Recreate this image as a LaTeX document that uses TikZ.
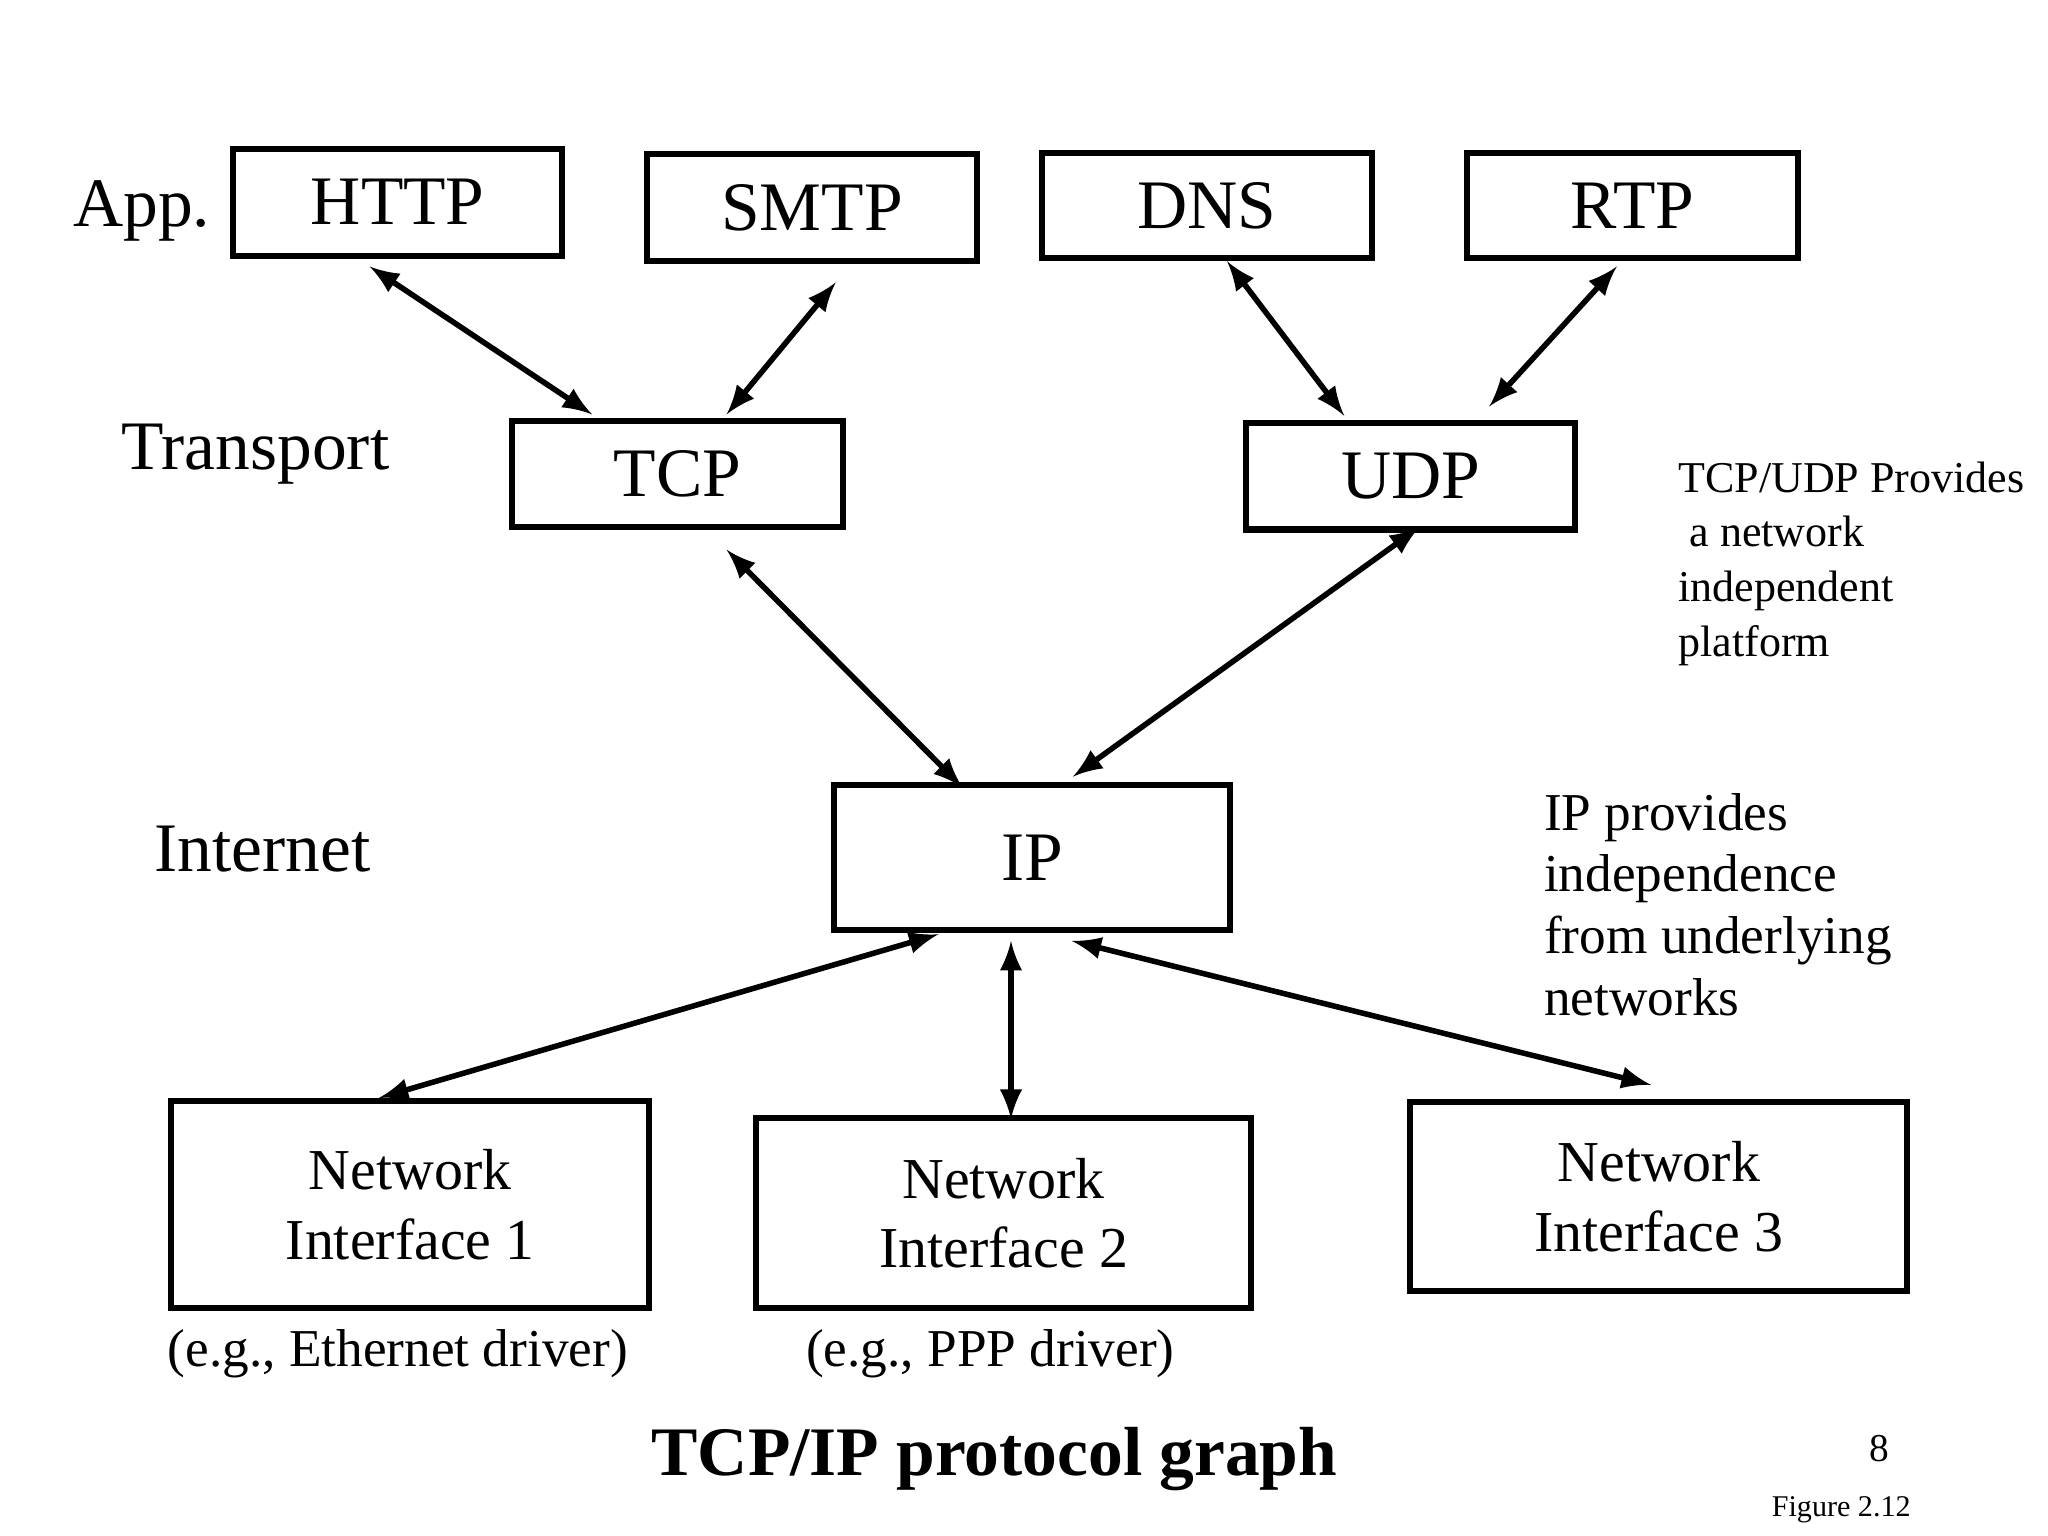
\documentclass[tikz,border=0pt]{standalone}
\usepackage{fontspec}
\setmainfont{Liberation Serif}
\usetikzlibrary{calc}
\begin{document}
\begin{tikzpicture}[x=0.01cm,y=-0.01cm,
  box/.style={draw,line width=1.3pt,inner sep=0pt},
  arr/.style={<->,>=latex,line width=1.2pt},
  big/.style={font=\fontsize{15}{17}\selectfont},
  ni/.style={font=\fontsize{12.5}{15}\selectfont,align=center},
  note/.style={font=\fontsize{9.5}{11.8}\selectfont,align=left,anchor=north west}]
\useasboundingbox (0,0) rectangle (1555,1166);
\node[box,big,minimum width=2.50cm,minimum height=0.81cm] (http) at (302,153.5) {HTTP};
\node[box,big,minimum width=2.51cm,minimum height=0.81cm] (smtp) at (616.5,157.5) {SMTP};
\node[box,big,minimum width=2.51cm,minimum height=0.80cm] (dns) at (916.5,156) {DNS};
\node[box,big,minimum width=2.51cm,minimum height=0.80cm] (rtp) at (1239.5,156) {RTP};
\node[box,big,minimum width=2.51cm,minimum height=0.80cm] (tcp) at (514.5,360) {TCP};
\node[box,big,minimum width=2.50cm,minimum height=0.81cm] (udp) at (1071,361.5) {UDP};
\node[box,big,minimum width=3.01cm,minimum height=1.10cm] (ip) at (783.5,651) {IP};
\node[box,ni,minimum width=3.63cm,minimum height=1.57cm] (n1) at (311.5,914.5) {Network\\Interface 1};
\node[box,ni,minimum width=3.76cm,minimum height=1.44cm] (n2) at (762,921) {Network\\Interface 2};
\node[box,ni,minimum width=3.77cm,minimum height=1.43cm] (n3) at (1259.5,908.5) {Network\\Interface 3};
\node[big,anchor=east] (app) at (172,160) {App.};
\node[big,anchor=west] (tr) at (80,345) {Transport};
\node[big,anchor=west] (inet) at (105,645) {Internet};
\node[note] (n-tcp) at (1262,338) {TCP/UDP Provides\\\ a network\\independent\\platform};
\node[note,font=\fontsize{11.5}{13.3}\selectfont] (n-ip) at (1160,590) {IP provides\\independence\\from underlying\\networks};
\node[ni,font=\fontsize{11.5}{14}\selectfont] (e1) at (302,1028) {(e.g., Ethernet driver)};
\node[ni,font=\fontsize{11.5}{14}\selectfont] (e2) at (752,1028) {(e.g., PPP driver)};
\node[font=\bfseries\fontsize{15}{18}\selectfont] (title) at (755,1108) {TCP/IP protocol graph};
\node[font=\fontsize{8.5}{10}\selectfont] (pg) at (1427,1100) {8};
\node[font=\fontsize{6.5}{8}\selectfont] (fig) at (1398,1146) {Figure 2.12};
\draw[arr] ($(http.south west)+(106,6)$) -- ($(tcp.north west)+(63,-3)$);
\draw[arr] ($(smtp.south west)+(146,14)$) -- ($(tcp.north west)+(165,-3)$);
\draw[arr] ($(dns.south west)+(143,0)$) -- ($(udp.north west)+(77,-3)$);
\draw[arr] ($(rtp.south west)+(116,4)$) -- ($(udp.north west)+(187,-10)$);
\draw[arr] ($(tcp.south west)+(165,15)$) -- ($(ip.north west)+(100,4)$);
\draw[arr] ($(udp.south west)+(134,-4)$) -- ($(ip.north west)+(184,-4)$);
\draw[arr] ($(ip.south west)+(82,1)$) -- ($(n1.north west)+(160,0)$);
\draw[arr] ($(ip.south west)+(137,6)$) -- ($(n2.north west)+(196,3)$);
\draw[arr] ($(ip.south west)+(183,6)$) -- ($(n3.north west)+(185,-11)$);
\end{tikzpicture}
\end{document}
